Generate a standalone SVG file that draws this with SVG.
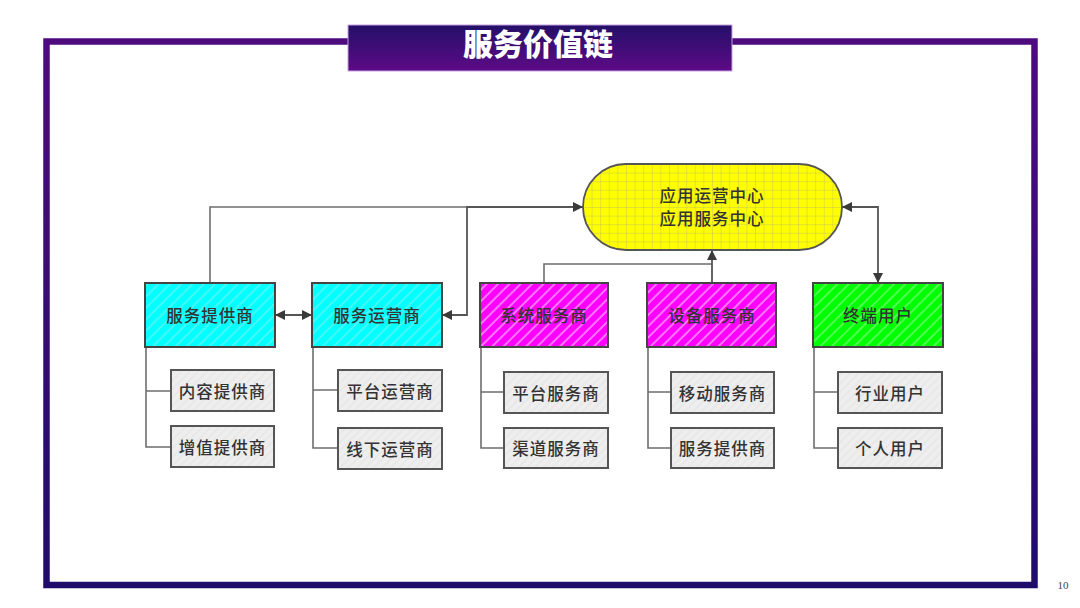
<svg xmlns="http://www.w3.org/2000/svg" width="1080" height="608" viewBox="0 0 1080 608">
<defs>
<linearGradient id="frameG" gradientUnits="userSpaceOnUse" x1="0" y1="40" x2="0" y2="588">
<stop offset="0" stop-color="#4e0b7e"/><stop offset="1" stop-color="#1f0c6b"/>
</linearGradient>
<linearGradient id="titleG" x1="0" y1="0" x2="0" y2="1">
<stop offset="0" stop-color="#231068"/><stop offset="1" stop-color="#5e0a86"/>
</linearGradient>
<pattern id="hC" width="8" height="8" patternUnits="userSpaceOnUse" patternTransform="rotate(45)">
<rect width="8" height="8" fill="#00ffff"/><line x1="1" y1="0" x2="1" y2="8" stroke="#7fefef" stroke-width="1.1"/>
</pattern>
<pattern id="hM" width="8" height="8" patternUnits="userSpaceOnUse" patternTransform="rotate(45)">
<rect width="8" height="8" fill="#ff00ff"/><line x1="1" y1="0" x2="1" y2="8" stroke="#ffb8ff" stroke-width="1.3"/>
</pattern>
<pattern id="hG" width="8" height="8" patternUnits="userSpaceOnUse" patternTransform="rotate(45)">
<rect width="8" height="8" fill="#00ff00"/><line x1="1" y1="0" x2="1" y2="8" stroke="#90ff90" stroke-width="1.1"/>
</pattern>
<pattern id="hS" width="6" height="6" patternUnits="userSpaceOnUse" patternTransform="rotate(45)">
<rect width="6" height="6" fill="#eeeeee"/><line x1="1" y1="0" x2="1" y2="6" stroke="#e2e2e2" stroke-width="1"/>
</pattern>
<pattern id="grid" x="583" y="164" width="8.6" height="8.6" patternUnits="userSpaceOnUse">
<rect width="8.6" height="8.6" fill="#ffff00"/><path d="M0 0H8.6M0 0V8.6" stroke="#b8b870" stroke-width="0.8" fill="none"/>
</pattern>
<marker id="ar" viewBox="0 0 10 10" refX="10" refY="5" markerWidth="10" markerHeight="10" markerUnits="userSpaceOnUse" orient="auto-start-reverse">
<path d="M0 0L10 5L0 10Z" fill="#3a3a3a"/>
</marker>
<style>
.main{stroke:#444;stroke-width:2}
.sub{fill:url(#hS);stroke:#555;stroke-width:2}
.t{font-family:"Noto Sans CJK SC","Noto Sans",sans-serif;font-size:16.5px;font-weight:500;fill:#333;text-anchor:middle;dominant-baseline:central;letter-spacing:1px}
.ln{fill:none;stroke:#6e6e6e;stroke-width:1.6}
.la{fill:none;stroke:#555;stroke-width:1.8}
</style>
</defs>
<rect x="0" y="0" width="1080" height="608" fill="#ffffff"/>
<rect x="46.5" y="41.5" width="988" height="543.5" fill="none" stroke="url(#frameG)" stroke-width="6.5"/>
<g id="title">
<rect x="348" y="25" width="384" height="46" fill="url(#titleG)" stroke="#c7a0e0" stroke-width="1"/>
<text x="538" y="42" font-family="'Noto Sans CJK SC','Noto Sans',sans-serif" font-size="30" font-weight="900" fill="#ffffff" text-anchor="middle" dominant-baseline="central">服务价值链</text>
</g>
<g id="connectors">
<path class="ln" d="M210 283V207H470"/>
<path class="la" d="M442 315H467V207H583" marker-start="url(#ar)" marker-end="url(#ar)"/>
<path class="la" d="M275 315H312" marker-start="url(#ar)" marker-end="url(#ar)"/>
<path class="ln" d="M544 283V264H712"/>
<path class="la" d="M712 283V250" marker-end="url(#ar)"/>
<path class="la" d="M842 207H878V283" marker-start="url(#ar)" marker-end="url(#ar)"/>
<path class="ln" d="M146 347V447H171M146 391H171"/>
<path class="ln" d="M313 347V448H338M313 390H338"/>
<path class="ln" d="M481 347V448H504M481 392H504"/>
<path class="ln" d="M648 347V448H671M648 392H671"/>
<path class="ln" d="M814 347V448H838M814 392H838"/>
</g>
<g id="center">
<rect x="583" y="164" width="259" height="86" rx="43" ry="43" fill="url(#grid)" stroke="#555" stroke-width="1.8"/>
<text class="t" x="712" y="195">应用运营中心</text>
<text class="t" x="712" y="218">应用服务中心</text>
</g>
<g id="n1"><rect class="main" x="145" y="283" width="130" height="64" fill="url(#hC)"/><text class="t" x="210" y="315">服务提供商</text></g>
<g id="n2"><rect class="main" x="312" y="283" width="130" height="64" fill="url(#hC)"/><text class="t" x="377" y="315">服务运营商</text></g>
<g id="n3"><rect class="main" x="480" y="283" width="128" height="64" fill="url(#hM)"/><text class="t" x="544" y="315">系统服务商</text></g>
<g id="n4"><rect class="main" x="647" y="283" width="129" height="64" fill="url(#hM)"/><text class="t" x="712" y="315">设备服务商</text></g>
<g id="n5"><rect class="main" x="813" y="283" width="130" height="64" fill="url(#hG)"/><text class="t" x="878" y="315">终端用户</text></g>
<g id="s1a"><rect class="sub" x="171" y="370" width="103" height="41"/><text class="t" x="222.5" y="390.5">内容提供商</text></g>
<g id="s1b"><rect class="sub" x="171" y="426" width="103" height="41"/><text class="t" x="222.5" y="446.5">增值提供商</text></g>
<g id="s2a"><rect class="sub" x="338" y="370" width="104" height="41"/><text class="t" x="390" y="390.5">平台运营商</text></g>
<g id="s2b"><rect class="sub" x="338" y="428" width="104" height="41"/><text class="t" x="390" y="448.5">线下运营商</text></g>
<g id="s3a"><rect class="sub" x="504" y="372" width="104" height="41"/><text class="t" x="556" y="392.5">平台服务商</text></g>
<g id="s3b"><rect class="sub" x="504" y="428" width="104" height="40"/><text class="t" x="556" y="448">渠道服务商</text></g>
<g id="s4a"><rect class="sub" x="671" y="372" width="103" height="41"/><text class="t" x="722.5" y="392.5">移动服务商</text></g>
<g id="s4b"><rect class="sub" x="671" y="428" width="103" height="40"/><text class="t" x="722.5" y="448">服务提供商</text></g>
<g id="s5a"><rect class="sub" x="838" y="372" width="104" height="41"/><text class="t" x="890" y="392.5">行业用户</text></g>
<g id="s5b"><rect class="sub" x="838" y="428" width="104" height="40"/><text class="t" x="890" y="448">个人用户</text></g>
<text x="1063" y="589" font-family="'Liberation Serif',serif" font-size="11" fill="#444" text-anchor="middle">10</text>
</svg>
